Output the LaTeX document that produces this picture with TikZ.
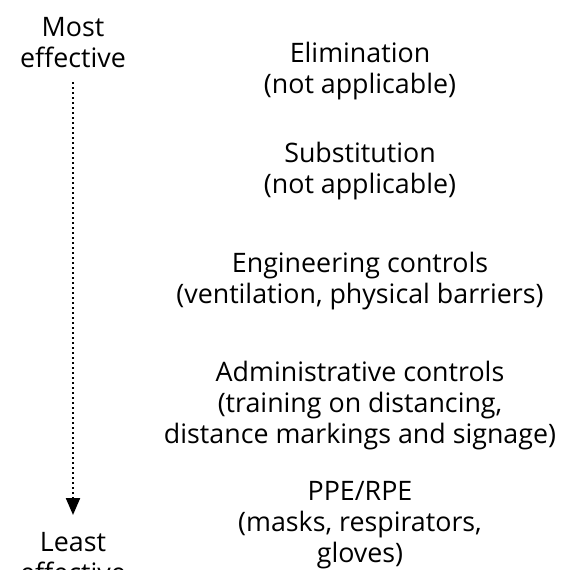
\documentclass[tikz,border=0pt]{standalone}
\usepackage{fontspec}
\setmainfont{Open Sans}
\usetikzlibrary{arrows.meta}
\begin{document}
\begin{tikzpicture}[x=1pt,y=-1pt,
  lbl/.style={align=center,inner sep=0pt,font=\fontsize{26.8}{31}\selectfont}]
\useasboundingbox (0,0) rectangle (563,570);
\clip (0,0) rectangle (563,570);
\node[lbl] (most) at (73,43) {Most\\effective};
\node[lbl] (least) at (73,558) {Least\\effective};
\node[lbl] (elim) at (360,71) {Elimination\\(not applicable)};
\node[lbl] (subs) at (360,171) {Substitution\\(not applicable)};
\node[lbl] (eng) at (360,281) {Engineering controls\\(ventilation, physical barriers)};
\node[lbl] (adm) at (360,406) {Administrative controls\\(training on distancing,\\distance markings and signage)};
\node[lbl] (ppe) at (360,525) {PPE/RPE\\(masks, respirators,\\gloves)};
\coordinate (top) at (73,82);
\coordinate (bot) at (73,515);
\draw[line width=2.2pt,dash pattern=on 2.2pt off 2.8pt,-{Triangle[width=14pt,length=17pt]}] (top) -- (bot);
\end{tikzpicture}
\end{document}
